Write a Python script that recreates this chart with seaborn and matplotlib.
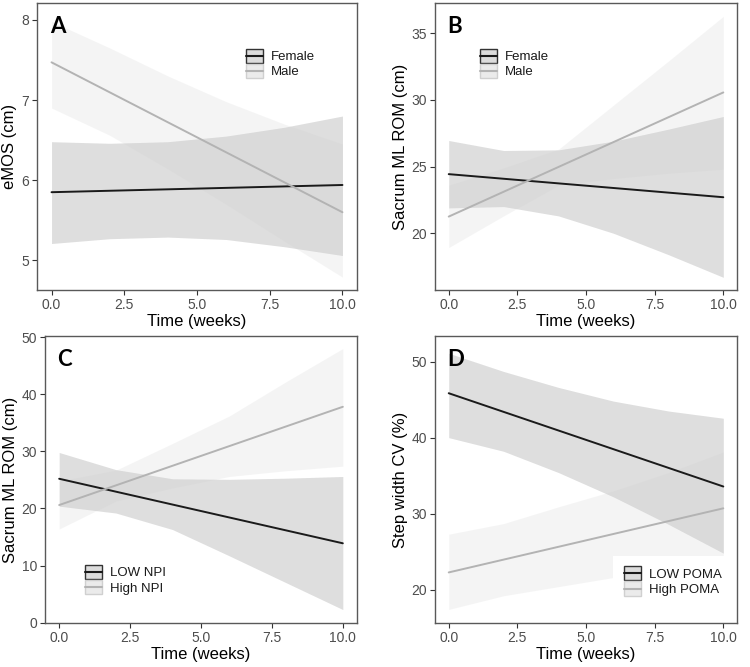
import matplotlib
matplotlib.use("Agg")
import matplotlib.pyplot as plt
import numpy as np
import pandas as pd
import seaborn as sns
from matplotlib.legend_handler import HandlerBase
from matplotlib.lines import Line2D
from matplotlib.patches import Rectangle

# time grid the confidence bands were read at, and line end points
weeks = [0, 2, 4, 6, 8, 10]
line_weeks = [0, 10]

# A: eMOS by sex
emos_female = [5.85, 5.94]
emos_female_lo = [5.21, 5.27, 5.29, 5.26, 5.17, 5.06]
emos_female_hi = [6.48, 6.46, 6.48, 6.55, 6.66, 6.80]
emos_male = [7.47, 5.60]
emos_male_lo = [6.90, 6.56, 6.14, 5.70, 5.24, 4.79]
emos_male_hi = [7.98, 7.65, 7.30, 6.98, 6.70, 6.45]

# B: sacrum ML ROM by sex
rom_female = [24.43, 22.70]
rom_female_lo = [21.9, 22.0, 21.3, 20.0, 18.4, 16.7]
rom_female_hi = [26.95, 26.2, 26.25, 26.9, 27.8, 28.75]
rom_male = [21.25, 30.55]
rom_male_lo = [18.93, 21.3, 23.6, 24.1, 24.5, 24.8]
rom_male_hi = [23.6, 24.9, 26.3, 29.6, 32.9, 36.25]

# C: sacrum ML ROM by NPI
npi_low = [25.2, 13.9]
npi_low_lo = [20.4, 19.2, 16.3, 11.7, 7.0, 2.3]
npi_low_hi = [29.8, 26.8, 25.2, 25.1, 25.3, 25.6]
npi_high = [20.6, 37.8]
npi_high_lo = [16.4, 21.3, 23.6, 25.6, 26.6, 27.4]
npi_high_hi = [24.8, 26.7, 31.4, 36.2, 42.2, 48.0]

# D: step width CV by POMA
poma_low = [45.84, 33.57]
poma_low_lo = [40.0, 38.2, 35.4, 32.2, 28.6, 24.8]
poma_low_hi = [51.1, 48.7, 46.6, 44.8, 43.5, 42.55]
poma_high = [22.27, 30.7]
poma_high_lo = [17.4, 19.2, 20.4, 21.6, 22.5, 23.3]
poma_high_hi = [27.3, 28.7, 30.9, 33.0, 35.4, 38.1]

sns.set_theme(style="white")
plt.rcParams["font.family"] = ["Liberation Sans", "DejaVu Sans"]

DARK = "#1a1a1a"
LIGHT = "#b3b3b3"


class LegendKey:
    """ggplot-like key: filled box with a line across the middle."""

    def __init__(self, fill, edge, line):
        self.fill, self.edge, self.line = fill, edge, line


class LegendKeyHandler(HandlerBase):
    def create_artists(self, legend, orig_handle, xdescent, ydescent,
                       width, height, fontsize, trans):
        box = Rectangle((-xdescent, -ydescent), width, height,
                        facecolor=orig_handle.fill, edgecolor=orig_handle.edge,
                        linewidth=1.0, transform=trans)
        y = -ydescent + height / 2
        ln = Line2D([-xdescent, -xdescent + width], [y, y],
                    color=orig_handle.line, linewidth=1.5, transform=trans)
        return [box, ln]


panels = [
    dict(letter="A", ylabel="eMOS (cm)", labels=["Female", "Male"],
         lines=[emos_female, emos_male],
         bands=[(emos_female_lo, emos_female_hi), (emos_male_lo, emos_male_hi)],
         ylim=(4.63, 8.21), yticks=[5, 6, 7, 8],
         rect=[0.0493, 0.5652, 0.4267, 0.4303], leg=(0.619, 0.878)),
    dict(letter="B", ylabel="Sacrum ML ROM (cm)", labels=["Female", "Male"],
         lines=[rom_female, rom_male],
         bands=[(rom_female_lo, rom_female_hi), (rom_male_lo, rom_male_hi)],
         ylim=(15.75, 37.25), yticks=[20, 25, 30, 35],
         rect=[0.58, 0.5652, 0.4027, 0.4303], leg=(0.113, 0.878)),
    dict(letter="C", ylabel="Sacrum ML ROM (cm)", labels=["LOW NPI", "High NPI"],
         lines=[npi_low, npi_high],
         bands=[(npi_low_lo, npi_low_hi), (npi_high_lo, npi_high_hi)],
         ylim=(-0.05, 50.2), yticks=[0, 10, 20, 30, 40, 50],
         rect=[0.06, 0.066, 0.416, 0.4303], leg=(0.093, 0.24)),
    dict(letter="D", ylabel="Step width CV (%)", labels=["LOW POMA", "High POMA"],
         lines=[poma_low, poma_high],
         bands=[(poma_low_lo, poma_low_hi), (poma_high_lo, poma_high_hi)],
         ylim=(15.62, 53.37), yticks=[20, 30, 40, 50],
         rect=[0.58, 0.066, 0.4027, 0.4303], leg=(0.59, 0.235)),
]

fig = plt.figure(figsize=(7.5, 6.67), dpi=100)

for p in panels:
    ax = fig.add_axes(p["rect"])

    # confidence bands (grey scale with alpha, like ggplot)
    (lo0, hi0), (lo1, hi1) = p["bands"]
    ax.fill_between(weeks, lo0, hi0, color="#333333", alpha=0.16, linewidth=0)
    ax.fill_between(weeks, lo1, hi1, color="#cccccc", alpha=0.2, linewidth=0)

    df = pd.DataFrame({
        "week": line_weeks * 2,
        "value": p["lines"][0] + p["lines"][1],
        "group": [p["labels"][0]] * 2 + [p["labels"][1]] * 2,
    })
    sns.lineplot(data=df, x="week", y="value", hue="group",
                 palette=[DARK, LIGHT], linewidth=1.4, legend=False, ax=ax)

    ax.set_xlim(-0.5, 10.5)
    ax.set_ylim(*p["ylim"])
    ax.set_xticks([0, 2.5, 5, 7.5, 10])
    ax.set_xticklabels(["0.0", "2.5", "5.0", "7.5", "10.0"])
    ax.set_yticks(p["yticks"])
    ax.set_xlabel("Time (weeks)", fontsize=12, color="black", labelpad=2)
    ax.set_ylabel(p["ylabel"], fontsize=12, color="black", labelpad=3)
    ax.tick_params(axis="both", which="both", bottom=True, left=True,
                   length=3.5, width=0.8, color="#333333",
                   labelsize=10, labelcolor="#4d4d4d", pad=2)
    for s in ax.spines.values():
        s.set_color("#595959")
        s.set_linewidth(1.0)

    ax.text(0.04, 0.955, p["letter"], transform=ax.transAxes,
            fontsize=16, fontweight="bold", family=["Lato", "DejaVu Sans"],
            va="top", ha="left", color="black")

    keys = [LegendKey("#dcdcdc", "#333333", DARK),
            LegendKey("#ebebeb", "#d0d0d0", LIGHT)]
    leg = ax.legend(keys, p["labels"], loc="upper left",
                    handler_map={LegendKey: LegendKeyHandler()},
                    bbox_to_anchor=p["leg"], borderaxespad=0, borderpad=0.8,
                    fontsize=9.5, handlelength=1.3, handleheight=1.3,
                    handletextpad=0.6, labelspacing=0.05,
                    frameon=True, facecolor="white", edgecolor="none",
                    framealpha=1, fancybox=False)
    for t in leg.get_texts():
        t.set_color("#1a1a1a")

fig.savefig("out.png", dpi=100)
